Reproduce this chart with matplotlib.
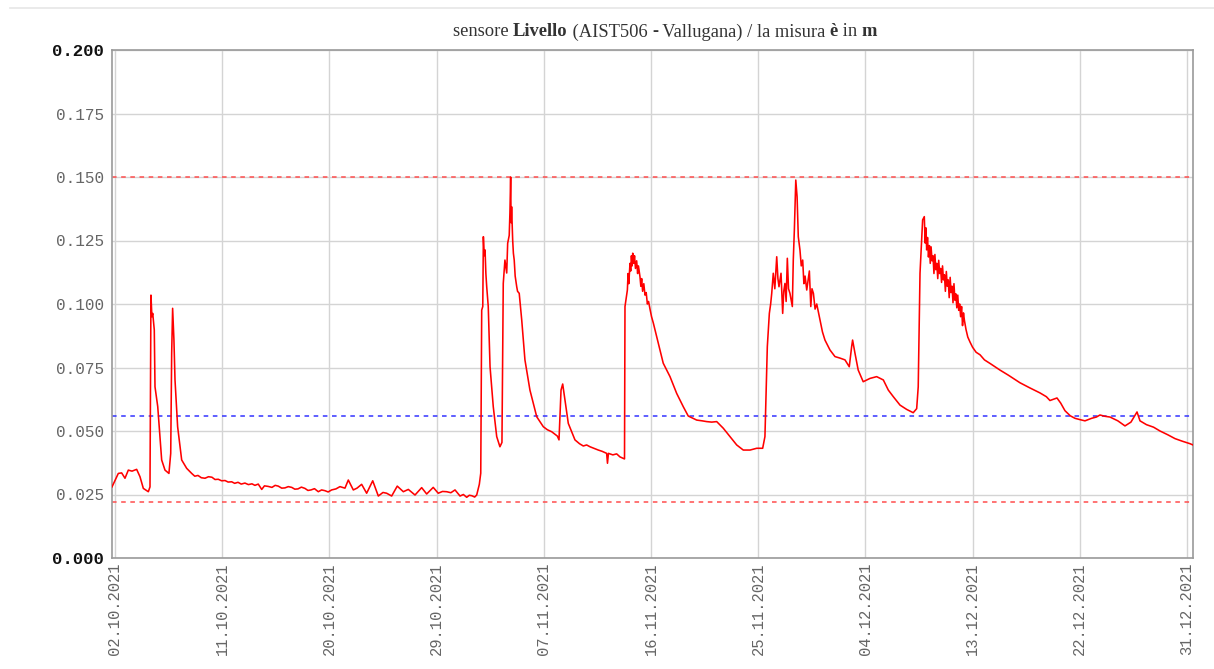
import numpy as np
import pandas as pd
import matplotlib
matplotlib.use("Agg")
import matplotlib.pyplot as plt
from matplotlib.lines import Line2D

# ---------------- data ----------------
start_date = "2021-10-01"
# days since 01.10.2021 00:00
days = [
    0.75, 1.00, 1.28, 1.56, 1.84, 2.12, 2.43, 2.82, 3.10, 3.38, 3.80, 3.94,
    4.02, 4.10, 4.17, 4.30, 4.36, 4.59, 4.78, 4.92, 5.20, 5.53, 5.68, 5.76,
    5.84, 5.95, 6.04, 6.26, 6.60, 7.02, 7.44, 7.70, 7.97, 8.25, 8.56, 8.85,
    9.14, 9.40, 9.67, 9.95, 10.24, 10.50, 10.80, 11.05, 11.33, 11.60, 11.91,
    12.20, 12.50, 12.75, 13.03, 13.32, 13.55, 13.85, 14.18, 14.45, 14.71,
    15.00, 15.27, 15.55, 15.84, 16.10, 16.36, 16.65, 16.95, 17.20, 17.46,
    17.75, 18.07, 18.35, 18.63, 18.90, 19.19, 19.55, 19.89, 20.31, 20.59,
    21.01, 21.32, 21.71, 22.13, 22.64, 23.11, 23.50, 23.81, 24.23, 24.70,
    25.21, 25.63, 26.19, 26.75, 27.17, 27.72, 28.14, 28.50, 28.85, 29.20,
    29.55, 29.97, 30.25, 30.53, 30.75, 30.97, 31.20, 31.37, 31.59, 31.71,
    31.79, 31.88, 31.93, 32.00, 32.07, 32.14, 32.21, 32.34, 32.49, 32.76,
    33.05, 33.32, 33.49, 33.60, 33.74, 33.89, 33.97, 34.10, 34.16, 34.22,
    34.26, 34.30, 34.39, 34.45, 34.52, 34.60, 34.73, 34.80, 34.94, 35.15,
    35.42, 35.84, 36.41, 36.96, 37.30, 37.67, 38.14, 38.28, 38.45, 38.59,
    38.78, 39.06, 39.62, 40.00, 40.32, 40.60, 40.88, 41.20, 41.58, 41.90,
    42.28, 42.35, 42.43, 42.80, 43.12, 43.40, 43.68, 43.78, 43.82, 44.02,
    44.08, 44.14, 44.24, 44.30, 44.36, 44.42, 44.47, 44.55, 44.62, 44.70,
    44.80, 44.88, 44.95, 45.08, 45.15, 45.22, 45.30, 45.40, 45.50, 45.60,
    45.70, 45.80, 45.92, 46.05, 46.20, 46.62, 47.03, 47.60, 48.16, 48.71,
    49.13, 49.84, 50.30, 50.68, 51.10, 51.52, 52.07, 52.64, 53.20, 53.75,
    54.32, 54.88, 55.38, 55.57, 55.77, 55.94, 56.05, 56.14, 56.27, 56.40,
    56.56, 56.66, 56.75, 56.92, 57.06, 57.15, 57.25, 57.35, 57.45, 57.55,
    57.67, 57.87, 57.95, 58.04, 58.16, 58.27, 58.37, 58.51, 58.62, 58.74,
    58.84, 58.94, 59.08, 59.30, 59.42, 59.52, 59.64, 59.78, 59.92, 60.19,
    60.40, 60.61, 61.03, 61.45, 61.87, 62.29, 62.65, 62.85, 62.93, 63.13,
    63.40, 63.82, 64.39, 64.95, 65.51, 65.93, 66.35, 66.91, 67.47, 68.02,
    68.31, 68.44, 68.59, 68.81, 68.95, 69.02, 69.08, 69.15, 69.22, 69.30,
    69.38, 69.45, 69.52, 69.60, 69.68, 69.76, 69.84, 69.92, 70.00, 70.08,
    70.16, 70.24, 70.32, 70.40, 70.48, 70.56, 70.64, 70.72, 70.80, 70.88,
    70.96, 71.04, 71.12, 71.20, 71.28, 71.36, 71.44, 71.52, 71.60, 71.68,
    71.76, 71.84, 71.92, 72.00, 72.08, 72.16, 72.24, 72.32, 72.45, 72.60,
    72.79, 73.00, 73.30, 73.63, 74.00, 74.50, 75.30, 76.00, 76.98, 77.80,
    78.66, 79.20, 79.50, 79.80, 80.09, 80.40, 80.76, 81.20, 81.60, 82.00,
    82.44, 83.00, 83.40, 83.70, 84.10, 84.54, 85.20, 85.80, 86.30, 86.81,
    87.06, 87.60, 88.20, 88.74, 89.40, 90.00, 90.60, 91.26, 91.51,
]
level = [
    0.0280, 0.0305, 0.0333, 0.0335, 0.0314, 0.0346, 0.0342, 0.0349, 0.0320, 0.0274, 0.0261, 0.0280,
    0.1035, 0.0950, 0.0963, 0.0898, 0.0674, 0.0596, 0.0478, 0.0386, 0.0346, 0.0333, 0.0412, 0.0806,
    0.0983, 0.0858, 0.0701, 0.0517, 0.0386, 0.0353, 0.0333, 0.0322, 0.0325, 0.0316, 0.0314, 0.0320,
    0.0318, 0.0309, 0.0310, 0.0304, 0.0305, 0.0299, 0.0300, 0.0294, 0.0298, 0.0291, 0.0295,
    0.0289, 0.0292, 0.0286, 0.0291, 0.0270, 0.0284, 0.0282, 0.0278, 0.0286, 0.0283,
    0.0275, 0.0276, 0.0281, 0.0278, 0.0271, 0.0272, 0.0279, 0.0274, 0.0266, 0.0268,
    0.0273, 0.0261, 0.0268, 0.0265, 0.0260, 0.0268, 0.0272, 0.0281, 0.0275, 0.0307,
    0.0268, 0.0275, 0.0290, 0.0255, 0.0304, 0.0244, 0.0258, 0.0255, 0.0244, 0.0283,
    0.0261, 0.0270, 0.0248, 0.0277, 0.0252, 0.0278, 0.0255, 0.0262, 0.0261, 0.0257,
    0.0268, 0.0244, 0.0250, 0.0239, 0.0247, 0.0245, 0.0240, 0.0248, 0.0290, 0.0334,
    0.0976, 0.0990, 0.1265, 0.1190, 0.1213, 0.1120, 0.1068, 0.0990, 0.0753, 0.0596,
    0.0478, 0.0438, 0.0455, 0.1081, 0.1173, 0.1122, 0.1239, 0.1270, 0.1360, 0.1500,
    0.1320, 0.1383, 0.1252, 0.1200, 0.1173, 0.1110, 0.1068, 0.1050, 0.1042, 0.0937,
    0.0780, 0.0661, 0.0556, 0.0517, 0.0505, 0.0497, 0.0480, 0.0465, 0.0661, 0.0685,
    0.0622, 0.0530, 0.0465, 0.0450, 0.0441, 0.0445, 0.0438, 0.0432, 0.0425, 0.0420,
    0.0412, 0.0373, 0.0412, 0.0406, 0.0410, 0.0398, 0.0392, 0.0390, 0.0990, 0.1055,
    0.1120, 0.1080, 0.1160, 0.1130, 0.1190, 0.1150, 0.1200, 0.1160, 0.1190, 0.1140,
    0.1170, 0.1120, 0.1150, 0.1107, 0.1070, 0.1100, 0.1050, 0.1080, 0.1035, 0.1045,
    0.1000, 0.1010, 0.0980, 0.0950, 0.0925, 0.0845, 0.0767, 0.0714, 0.0648, 0.0596,
    0.0559, 0.0543, 0.0540, 0.0537, 0.0535, 0.0537, 0.0511, 0.0478, 0.0445, 0.0425,
    0.0425, 0.0432, 0.0432, 0.0478, 0.0832, 0.0963, 0.1000, 0.1042, 0.1121, 0.1060,
    0.1186, 0.1100, 0.1068, 0.1121, 0.0963, 0.1050, 0.1081, 0.1010, 0.1180, 0.1060,
    0.1042, 0.0990, 0.1173, 0.1291, 0.1488, 0.1422, 0.1265, 0.1213, 0.1150, 0.1173,
    0.1080, 0.1110, 0.1055, 0.1130, 0.0990, 0.1060, 0.1042, 0.0980, 0.1000, 0.0937,
    0.0890, 0.0858, 0.0819, 0.0793, 0.0787, 0.0780, 0.0753, 0.0832, 0.0858, 0.0806,
    0.0740, 0.0694, 0.0707, 0.0714, 0.0701, 0.0661, 0.0635, 0.0602, 0.0585, 0.0572,
    0.0588, 0.0674, 0.1121, 0.1331, 0.1344, 0.1240, 0.1300, 0.1213, 0.1262, 0.1185,
    0.1230, 0.1160, 0.1225, 0.1170, 0.1190, 0.1120, 0.1195, 0.1135, 0.1160, 0.1100,
    0.1172, 0.1120, 0.1140, 0.1085, 0.1150, 0.1095, 0.1115, 0.1050, 0.1128, 0.1070,
    0.1095, 0.1025, 0.1105, 0.1045, 0.1070, 0.1005, 0.1080, 0.1015, 0.1040, 0.0985,
    0.1035, 0.0975, 0.1000, 0.0950, 0.0990, 0.0915, 0.0965, 0.0935, 0.0900, 0.0870,
    0.0850, 0.0830, 0.0810, 0.0800, 0.0780, 0.0765, 0.0740, 0.0720, 0.0690, 0.0670,
    0.0650, 0.0635, 0.0620, 0.0625, 0.0630, 0.0610, 0.0580, 0.0560, 0.0550, 0.0545,
    0.0540, 0.0550, 0.0555, 0.0563, 0.0558, 0.0555, 0.0540, 0.0520, 0.0535, 0.0575,
    0.0540, 0.0525, 0.0515, 0.0500, 0.0485, 0.0470, 0.0460, 0.0450, 0.0445,
]
upper_threshold = 0.150
lower_threshold = 0.022
mean_level = 0.056

y_ticks = [0.000, 0.025, 0.050, 0.075, 0.100, 0.125, 0.150, 0.175, 0.200]
x_tick_dates = ["02.10.2021", "11.10.2021", "20.10.2021", "29.10.2021", "07.11.2021",
                "16.11.2021", "25.11.2021", "04.12.2021", "13.12.2021", "22.12.2021",
                "31.12.2021"]
title_parts = [("sensore ", "normal"), ("Livello", "bold"), (" (AIST506 ", "normal"),
               ("-", "bold"), (" Vallugana) / la misura ", "normal"), ("è", "bold"),
               (" in ", "normal"), ("m", "bold")]

# ---------------- plot ----------------
W, H = 1214, 669
fig = plt.figure(figsize=(W / 100, H / 100), dpi=100)
fig.patch.set_facecolor("white")
ax = fig.add_axes([112 / W, 1 - 558 / H, (1193 - 112) / W, (558 - 50) / H])

t0 = pd.Timestamp(start_date)
times = t0 + pd.to_timedelta(np.array(days), unit="D")
ax.plot(times, level, color="#ff0000", lw=1.15, zorder=3)

for yv, col in [(upper_threshold, "#ff4d4d"), (lower_threshold, "#ff4d4d"), (mean_level, "#3333ff")]:
    ax.axhline(yv, color=col, lw=1.1, dashes=(3, 3), zorder=2, clip_on=False)

ax.set_ylim(0, 0.2)
ax.set_xlim(t0 + pd.Timedelta(days=0.75), t0 + pd.Timedelta(days=91.51))

ax.set_yticks(y_ticks)
ax.set_yticklabels([f"{v:.3f}" for v in y_ticks])
tick_ts = [pd.to_datetime(s, format="%d.%m.%Y") for s in x_tick_dates]
ax.set_xticks(tick_ts)
ax.set_xticklabels(x_tick_dates, rotation=90)

mono = "Liberation Mono"
ax.tick_params(axis="both", length=0, colors="#666666", labelsize=11.5)
ax.tick_params(axis="y", pad=6)
ax.tick_params(axis="x", pad=3, labelsize=11.2)
for lab in ax.get_yticklabels() + ax.get_xticklabels():
    lab.set_fontfamily(mono)
yl = ax.get_yticklabels()
for i in (0, len(yl) - 1):
    yl[i].set_fontweight("bold")
    yl[i].set_color("#111111")
    yl[i].set_fontsize(12.5)

ax.grid(True, color="#d4d4d4", lw=1.0)
ax.set_axisbelow(True)
for s in ax.spines.values():
    s.set_color("#9a9a9a")
    s.set_linewidth(1.2)

# top separator line
fig.add_artist(Line2D([10 / W, 1.0], [1 - 8 / H, 1 - 8 / H], color="#e6e6e6", lw=1.2))

# composite title with mixed weights (widths measured with sentinels so spaces count)
renderer = fig.canvas.get_renderer()
tfont = dict(fontsize=13.3, family="Liberation Serif", color="#333333", va="center", ha="left")


def text_width(s, weight):
    t = fig.text(0, 0, s, fontweight=weight, **tfont)
    w = t.get_window_extent(renderer).width
    t.remove()
    return w


widths = []
for s, w in title_parts:
    widths.append(text_width("|" + s + "|", w) - text_width("||", w))
total = sum(widths)
x = 665 - total / 2
for (s, w), wd in zip(title_parts, widths):
    fig.text(x / W, 1 - 32 / H, s, fontweight=w, **tfont)
    x += wd

fig.savefig("out.png", dpi=100, facecolor="white")
